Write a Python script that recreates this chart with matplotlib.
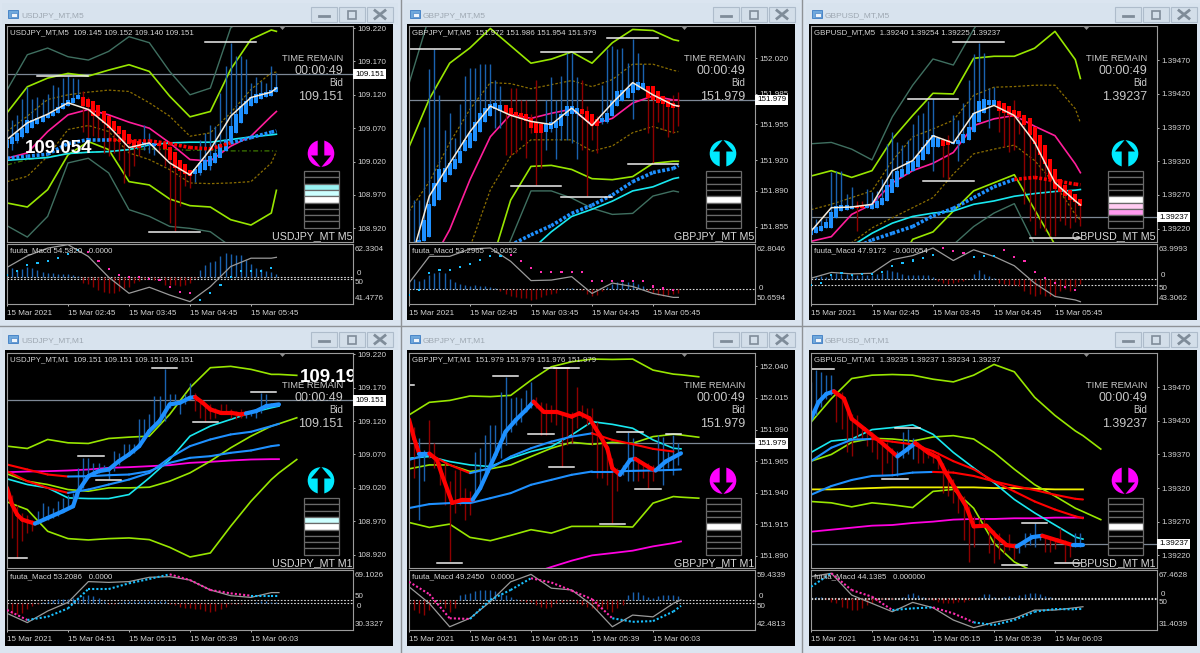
import numpy as np
import matplotlib
matplotlib.use("Agg")
import matplotlib.pyplot as plt
from matplotlib import font_manager
from matplotlib.patches import Rectangle, Circle, Polygon

plt.rcParams['font.family'] = ['Liberation Sans', 'DejaVu Sans']
installed = {f.name for f in font_manager.fontManager.ttflist}
NARROW = 'Liberation Sans Narrow' if 'Liberation Sans Narrow' in installed else 'Liberation Sans'
NARROW_K = 1.0 if NARROW.endswith('Narrow') else 0.84

# knots used by the slower indicator lines (bar numbers)
k5 = [0,4,8,12,16,20,24,28,32,36,40,44,48,52,53]
k1 = [0,8,16,24,32,40,48,56,64,72,80,88,96,104,107,114]
d5 = list(range(0,54,2))
w1 = list(range(0,108,2))

# --- USDJPY M5, points above 108.900
uj5_open = [141,146,151,157,163,171,176,180,185,188,193,198,203,208,213,216,213,211,204,196,188,181,174,167,161,153,151,145,145,144,148,147,142,134,123,116,108,101,103,108,113,118,126,136,148,163,178,191,203,208,213,216,218,224]
uj5_close = [153,157,163,171,182,182,186,188,191,194,202,207,212,215,219,203,201,188,188,178,171,166,161,153,146,141,141,149,148,148,144,139,123,111,106,101,98,109,118,123,128,133,146,153,173,191,203,211,216,221,222,224,227,232]
uj5_high = [179,183,190,213,232,213,216,213,221,234,232,245,248,245,243,226,216,206,203,188,178,171,173,168,158,153,153,175,163,148,148,148,143,135,123,116,108,111,153,163,175,173,223,263,298,278,278,274,238,246,241,238,263,253]
uj5_low = [128,138,148,155,163,171,176,180,185,188,193,198,203,208,213,165,153,158,153,133,128,133,123,88,98,113,128,138,133,130,133,113,28,16,53,83,80,90,100,108,108,118,128,136,148,163,178,191,203,208,213,216,218,224]
uj5_white = [153,178,191,208,198,173,141,148,118,100,138,188,216,224,230]
uj5_teal_up = [227,280,290,277,272,285,307,298,255,220,230,320,345,350,350]
uj5_green_up = [193,232,245,252,248,257,265,255,218,187,195,258,303,317,315]
uj5_dot_up = [165,188,213,220,224,227,225,208,188,158,163,193,228,253,254]
uj5_pink = [125,133,165,190,198,190,179,170,148,123,121,143,158,188,195]
uj5_dot_lo = [90,98,128,168,174,165,133,123,108,88,87,88,90,118,135]
uj5_olive = [115,123,127,132,134,135,138,139,138,137,137,136,136,136,136]
uj5_cyan = [122,124,126,132,134,135,138,145,148,149,149,153,157,160,161]
uj5_green_lo = [58,52,78,130,150,138,90,85,64,54,52,33,25,43,77]
uj5_teal_lo = [24,7,38,118,125,103,48,38,23,20,15,-7,-20,-20,-20]
uj5_slow = [125,128,131,147,153,153,151,151,147,141,139,148,156,164,166]
uj5_slow_flags = "bbbbb" + "rrrrrr" + "bbb"
uj5_piv_bar = [6,39,28]
uj5_piv_end = [16,49,38]
uj5_piv_pts = [248.5,299,14.5]
uj5_rsi = [54.2,58.2,60.9,62.1,58.0,50.8,45.2,47.3,44.6,42.3,47.5,54.5,57.4,57.4,57.7]
uj5_sig = [51.6,53.1,54.9,55.7,56.3,57.4,58.9,60.1,59.5,56.5,53.6,51.6,51.0,50.7,50.3,49.9,47.5,45.8,45.2,42.9,45.2,48.1,51.0,52.8,52.8,52.8,53.9]
uj5_sig_flags = "b"*8 + "p"*11 + "b"*8
uj5_hist = [30,25,20,22,28,25,18,12,10,10,8,8,8,5,3,-18,-22,-30,-40,-45,-48,-48,-42,-35,-30,-20,-12,-8,-3,-10,-3,-25,-25,-25,-28,-25,-20,-5,18,35,42,45,60,70,68,65,65,50,38,25,22,15,12,8]

# --- GBPJPY M5, points above 151.800
gj5_open = [16,26,29,41,45,75,81,99,106,111,117,129,132,139,148,157,163,170,168,174,171,167,166,165,161,157,155,148,151,152,154,163,165,165,170,168,165,160,157,157,163,173,178,181,186,189,190,193,193,188,183,179,176,174]
gj5_close = [26,37,42,62,77,98,111,112,117,121,129,140,147,157,166,171,175,176,174,166,163,163,160,158,152,147,147,155,157,158,165,173,173,171,165,158,154,154,161,166,178,188,189,191,196,197,196,181,179,176,175,172,171,172]
gj5_high = [86,81,81,153,209,229,184,150,166,142,175,202,210,210,214,214,214,199,193,173,191,191,179,179,165,199,156,179,201,179,202,225,225,201,199,173,165,163,194,229,232,229,230,215,239,225,214,193,193,183,183,179,184,187]
gj5_low = [16,26,29,41,45,75,81,99,106,111,117,129,132,139,148,157,163,152,152,125,125,127,140,122,147,96,112,130,148,121,140,140,137,121,130,85,140,127,155,156,163,173,178,181,160,189,190,147,117,157,150,143,147,154]
gj5_white = [16,85,117,148,173,164,158,155,171,154,176,196,184,174,173]
gj5_teal_up = [195,261,320,320,320,320,320,320,320,320,320,320,320,320,320]
gj5_green_up = [133,180,215,230,249,232,215,219,226,215,235,248,247,238,237]
gj5_dot_up = [70,99,137,170,196,195,190,194,198,192,199,214,214,208,207]
gj5_pink = [-16,16,52,101,143,165,161,166,170,155,161,176,183,179,179]
gj5_dot_lo = [-50,-50,0,35,91,124,140,140,140,129,134,147,153,147,148]
gj5_cyan = [-50,-50,-50,-50,-50,-20,32,50,65,72,80,90,94,102,103]
gj5_green_lo = [-50,-50,-50,-50,16,81,114,115,111,102,101,104,117,119,119]
gj5_teal_lo = [-50,-50,-50,-50,0,42,90,90,83,73,67,68,85,90,89]
gj5_slow = [-50,-50,-50,-50,22,37,47,56,68,76,86,99,108,112,115]
gj5_slow_flags = "b"*14
gj5_piv_bar = [0,26,39,20,30,43]
gj5_piv_end = [10,36,49,30,40,53]
gj5_piv_pts = [228.5,226,240,94.5,84.5,116]
gj5_rsi = [54.9,60.3,60.3,61.8,62.0,59.3,55.4,55.5,56.2,52.8,54.9,54.2,52.8,52.0,52.0]
gj5_sig = [52.5,53.5,56.9,57.6,57.6,58.1,58.7,59.6,60.3,60.4,60.6,59.3,57.9,57.2,57.2,57.2,57.2,57.2,55.3,55.3,55.3,55.3,55.3,55.3,54.2,53.8,53.5]
gj5_sig_flags = "b"*10 + "p"*17
gj5_hist = [25,30,25,30,42,48,50,48,30,20,15,12,10,12,10,8,5,3,-5,-15,-22,-25,-28,-28,-32,-30,-25,-18,-15,-12,0,3,3,0,-3,-15,-20,-18,-5,5,15,20,20,20,20,15,8,-5,-12,-18,-20,-18,-15,-12]

# --- GBPUSD M5, points above 1.39200
gu5_open = [11,14,16,21,21,36,46,47,49,54,54,50,49,51,55,61,73,81,96,101,106,111,122,131,141,141,152,151,145,146,147,151,164,179,191,204,204,209,206,202,196,194,189,185,171,159,144,124,109,94,85,77,71,64]
gu5_close = [21,22,24,29,44,54,55,55,54,50,50,55,56,61,66,84,94,106,109,121,121,129,141,151,159,154,143,144,149,151,161,171,191,209,212,211,211,194,191,189,186,186,174,159,146,129,116,94,79,74,69,62,59,54]
gu5_high = [56,34,34,36,104,106,106,71,81,61,61,79,74,76,94,146,164,149,144,151,176,189,191,209,212,154,154,159,189,181,206,241,279,296,281,229,230,211,206,202,211,194,189,185,171,159,144,124,109,94,85,77,71,64]
gu5_low = [11,14,16,21,21,36,46,47,49,16,50,50,49,51,55,61,74,81,96,101,106,111,122,131,106,141,96,94,145,121,147,151,164,179,191,169,204,164,141,134,136,161,56,31,11,21,16,9,9,31,26,21,29,24]
gu5_white = [16,51,52,56,106,121,158,147,191,203,188,148,88,61,55]
gu5_teal_up = [146,148,138,122,186,233,272,263,316,361,361,361,361,361,361]
gu5_green_up = [98,106,96,106,153,188,221,220,273,276,276,288,313,271,243]
gu5_dot_up = [48,56,66,76,121,156,168,181,218,230,231,233,233,198,177]
gu5_pink = [1,8,41,56,88,106,117,133,173,183,188,172,158,116,103]
gu5_dot_lo = [-39,-29,-1,21,36,51,66,101,131,138,144,121,86,41,33]
gu5_cyan = [-39,-24,-6,13,28,38,43,46,56,61,68,72,75,77,78]
gu5_green_lo = [-50,-50,-50,-50,-50,4,15,46,76,88,100,48,-4,-39,-39]
gu5_teal_lo = [-50,-50,-50,-50,-50,-50,-50,-4,23,43,57,-4,-50,-50,-50]
gu5_slow = [-50,-50,-11,3,13,23,39,50,66,82,93,96,91,86,85]
gu5_slow_flags = "b"*10 + "r"*4
gu5_piv_bar = [19,28,22,43]
gu5_piv_end = [29,38,32,53]
gu5_piv_pts = [212,297,91,6]
gu5_rsi = [52.2,54.2,53.7,53.9,58.6,60.0,62.6,58.3,62.0,59.7,56.5,50.5,45.9,44.7,44.1]
gu5_sig = [49.9,50.5,53.4,53.9,53.4,53.6,53.7,54.5,56.3,57.6,58.3,59.1,60.3,62.6,61.5,60.9,59.5,59.7,59.7,61.8,59.5,58.0,54.2,52.2,50.5,49.1,48.2]
gu5_sig_flags = "b"*13 + "ppp" + "bbb" + "p"*8
gu5_hist = [10,5,8,5,10,18,15,15,12,12,10,12,10,15,18,25,22,20,15,12,12,12,10,10,5,-5,-12,-15,-12,-10,-5,0,15,25,15,8,3,-12,-15,-18,-18,-22,-35,-45,-50,-45,-50,-50,-50,-35,-30,-35,-25,-15]

# --- USDJPY M1, points above 108.900
uj1_ha_bar = [0,2,4,6,8,11,16,22,26,28,32,36,40,44,48,52,56,60,64,68,72,74,77,80,84,88,92,94,98,102,107]
uj1_ha = [120,95,80,72.5,70,66.5,75,85,92.5,115,137.5,145,147.5,160,170,182.5,205,220,245,247.5,255,256,247.5,237.5,232.5,232.5,230,231.5,235,242.5,245]
uj1_ha_flags = "r"*5 + "b"*16 + "r"*6 + "b"*3
uj1_high = [125,110,95,82.5,80,72.5,85,97.5,92.5,90,100,105,110,112.5,150,165,165,157.5,157.5,155,150,175,172.5,185,185,185,222.5,222.5,230,257.5,257.5,297.5,260,260,250,260,277.5,262.5,250,245,245,240,245,245,237.5,235,237.5,234,234,235,262.5,261,247.5,247.5]
uj1_low = [105,45,15,40,52.5,55,66.5,70,72.5,75,77.5,85,90,92.5,105,120,135,140,142.5,145,134,145,155,165,170,172.5,182.5,195,200,215,217.5,220,240,245,230,245,252.5,235,225,220,222.5,225,230,232.5,225,222.5,225,225,227.5,225,232.5,240,242.5,242.5]
uj1_green_up = [182.5,179,192.5,187.5,186.5,194,196,197.5,230,270,300,302,297.5,290,290,288.5]
uj1_green_lo = [99,87.5,55,44,42,44,45,42.5,31,16.5,22.5,62.5,100,132.5,142.5,162.5]
uj1_green_mid = [141,130,125,117.5,115,120,120,121,130,142.5,160,180,197.5,212.5,216,225]
uj1_cyan = [133.5,125,120,105,104,104,110,135,162.5,197.5,212.5,222.5,232.5,240,242.5]
uj1_ma_a = [155,147.5,140,137,137.5,139,140,145,157.5,165,167.5,172.5,176,182.5,184]
uj1_ma_a_flags = "rrr" + "b"*11
uj1_ma_b = [145,130,120,112.5,117.5,125,132.5,142.5,165,182.5,192.5,200,204,212.5,216]
uj1_ma_b_flags = "rrr" + "b"*11
uj1_magenta = [143.5,144.5,145,146,147.5,150,151,152.5,154,157.5,159,161,162.5,163,163]
uj1_piv_bar = [57,28,35,96,73,0]
uj1_piv_end = [67,38,45,106,83,8]
uj1_piv_pts = [299,167,132,263,218.5,15]
uj1_rsi = [41.1,35.1,42.6,48.2,61.6,61.1,61.6,64.4,64.8,62.6,56.2,52.5,51.4,54.5,54.5]
uj1_sig = [43.3,36.8,38.9,44.3,56.8,56.8,60.5,63.3,66.3,62.6,56.2,54.0,52.5,52.5,52.5]
uj1_sig_flags = "p" + "b"*7 + "p"*4 + "bb"
uj1_hist = [-30,-35,-35,-30,-20,-10,-3,3,5,8,10,12,12,14,18,20,22,20,15,5,-3,-5,3,5,5,5,5,5,5,5,5,5,-3,-8,-12,-15,-15,-18,-20,-25,-28,-25,-20,-12,-5,-3,-3,0,0,2,5,5,3,3]

# --- GBPJPY M1, points above 151.800
gj1_ha_bar = [0,2,4,8,11,13,17,21,25,28,31,34,38,42,46,49,53,58,64,67,71,75,78,80,83,87,89,95,97,101,107]
gj1_ha = [198,183,171,171,166,154,132,134.4,134.4,143.6,156.8,170,188.3,197.5,205.4,212,204,204,200.2,202.8,198.9,185.7,175.2,159.4,154.2,166,166.8,159.4,157.6,164.7,171.2]
gj1_ha_flags = "rrb" + "r"*5 + "b"*7 + "r"*9 + "bb" + "rr" + "bb"
gj1_high = [198.9,192.3,183,173.9,197.5,179.1,164.7,164.7,148.9,158.1,159.4,143.6,141,172.6,175.2,185.7,193.6,193.6,219.9,231.7,214.6,216,214.6,221.2,227.8,216,212,210.7,209.4,238.3,204.1,238.3,204.1,223.8,209.4,206.8,206.8,196.2,185.7,175.2,167.3,159.4,162,188.3,183,167.3,164.7,163.4,162,185.7,184.4,172.6,185.7,179.1]
gj1_low = [162,151.5,118.6,148.9,167.3,159.4,146.3,130.5,85.8,123.9,130.5,118.6,122.6,138.4,146.3,154.2,159.4,167.3,167.3,177.8,188.3,193.6,196.2,204.1,206.8,206.8,185.7,185.7,196.2,193.6,160.7,177.8,179.1,191,198.9,193.6,177.8,151.5,151.5,146.3,116,141,154.2,148.9,148.9,148.9,151.5,143.6,148.9,159.4,146.3,159.4,154.2,162]
gj1_green_up = [201.5,211.5,213,216.5,216,217,229,239.6,243.6,245.7,245.4,245.7,237,233.8,233.3,231.7]
gj1_green_lo = [116.5,112.6,115.2,104.7,102.1,106.3,110.8,108.1,113.4,113.4,113.4,112.9,131.8,137,136.5,135.7]
gj1_green_mid = [158.9,162,162,156.8,158.9,162,168.6,175.2,179.9,178.3,179.9,179.1,184.4,186.2,185.7,183.9]
gj1_cyan = [167.3,168.6,164.7,162,160.7,167.3,172.6,176.5,185.7,196.2,194.1,191,181.8,175.2,174.7]
gj1_ma_a = [166,170.5,162,155.5,159.4,168.6,175.2,180.4,184.4,187,181.8,178.4,174.7,172.6]
gj1_ma_a_flags = "brr" + "b"*6 + "r"*4
gj1_ma_b = [127.9,131,131.8,131.8,135.7,139.7,146.3,150.2,154.2,156.8,156.8,157.3,157.6,158.1,158.4]
gj1_ma_b_flags = "b"*14
gj1_magenta = [40,40,40,50,62,70,76,81.3,86.3,90.5,92.3,94.2,97.6,100.2,101.5]
gj1_piv_bar = [33,53,57,47,55,82,101,11,89,75,0]
gj1_piv_end = [43,63,67,57,65,92,107,21,99,85,2]
gj1_piv_pts = [232.3,238.8,238.8,186.5,160.2,188.3,186.2,84.2,143.1,115.5,225]
gj1_rsi = [54.7,50.0,43.4,45.8,50.5,56.1,58.2,54.3,53.8,49.5,43.4,46.7,46.2,50.0,51.0]
gj1_sig = [56.1,52.6,45.8,45.6,51,53.8,57.1,55.9,53.6,51.2,45.8,44.8,45,47.7,49.3]
gj1_sig_flags = "ppp" + "bbb" + "pppp" + "bbbb"
gj1_hist = [-15,-30,-40,-45,-30,-10,-5,-25,-35,-25,15,18,22,28,30,30,30,28,20,15,8,3,-3,-5,-5,-15,-22,-25,-20,-10,-5,-3,-3,-8,-15,-20,-25,-30,-28,-28,-35,-25,-15,15,25,25,15,8,5,12,15,15,15,12]

# --- GBPUSD M1, points above 1.39200
gu1_ha_bar = [0,3,6,9,13,16,21,27,34,38,41,46,50,53,57,61,64,69,73,77,81,87,91,97,103,107]
gu1_ha = [223,248,260,264,253,223,208,190,167,178,187,173,165,143,118,93,63,64,48,35,33,47,49,42,35,35]
gu1_ha_flags = "bbb" + "r"*5 + "bb" + "r"*10 + "bb" + "rr" + "b"
gu1_high = [278,295,293,288,288,264,263,245,230,228,213,205,203,193,190,188,180,175,203,208,195,188,183,178,175,173,158,148,133,118,108,93,78,75,75,63,58,53,43,52,38,35,53,53,68,50,48,45,43,60,43,38,53,53]
gu1_low = [218,228,240,253,258,218,208,173,168,193,193,183,173,163,140,158,140,138,165,170,163,158,158,165,158,148,113,108,98,83,43,10,33,63,63,23,8,15,23,28,15,23,33,35,33,43,25,25,30,38,10,18,33,33]
gu1_green_up = [218,253,283,288,289,288,282,278,288,304,293,255,228,205,198,178]
gu1_green_lo = [100,98,92,98,95,91,115,118,90,38,10,-5]
gu1_green_mid = [160,170,188,194,193,190,196,198,193,173,148,125,108,90,85,73]
gu1_cyan = [173,190,193,207,210,214,200,173,150,128,103,83,65,47,44]
gu1_ma_a = [160,180,192,193,189,185,175,160,148,130,115,100,88,78,75]
gu1_ma_a_flags = "bbb" + "r"*11
gu1_ma_b = [110,123,132,138,139,143,144,143,138,130,123,117,110,104,103]
gu1_ma_b_flags = "b"*6 + "r"*8
gu1_yellow = [118,118,119,120,121,121,121,121,121,120,120,119,118,118,118]
gu1_magenta = [55,58,61,64,65,68,70,73,74,74,75,75,76,76,76]
gu1_piv_bar = [0,33,28,83,75,96]
gu1_piv_end = [9,43,38,93,85,106]
gu1_piv_pts = [297,209,134,68,6,8]
gu1_rsi = [63.5,65.5,52.4,47.4,42.4,48,44.8,37.4,32.8,36,38.4,43.4,43.4,44.8,45.4]
gu1_sig = [57.4,65.5,55.4,51.4,43.4,44.4,45,41.4,36,34.4,37.4,42.4,44,43.8,43.8]
gu1_sig_flags = "b" + "ppp" + "bb" + "pp" + "b"*6
gu1_hist = [5,5,5,-3,-10,-15,-25,-30,-35,-35,-30,-20,-15,-8,-3,-3,-3,0,5,12,15,10,3,-3,-5,-10,-15,-15,-15,-12,-10,-5,-3,3,12,12,5,0,5,8,5,10,12,15,15,12,8,3,0,0,0,0,0,0]

# signal stack row colours (9 rows, top first)
K_ = "#000000"
stack_uj5 = [K_,K_,"#99f2f2","#ccffff","#ffffff",K_,K_,K_,K_]
stack_one = [K_,K_,K_,K_,"#ffffff",K_,K_,K_,K_]
stack_gu5 = [K_,K_,K_,K_,"#ffffff","#ffccf2","#ff99ee",K_,K_]
stack_uj1 = [K_,K_,K_,"#ccffff","#ffffff",K_,K_,K_,K_]

GREEN = "#98e600"; TEAL = "#3f6f60"; GOLD = "#8a6d00"; PINK = "#ff1e9a"
CYAN = "#19e8f0"; BLUE = "#1e90ff"; RED = "#ff0000"; MAG = "#ff00e0"
DBLUE = "#1a62b0"; DRED = "#8e0000"; TXT = "#d4d4d4"
seg_col = {"b": BLUE, "r": RED, "p": "#ff2db0"}
dot_col = {"b": "#19c0ff", "p": "#ff2db0"}

panels = [
    dict(sym="USDJPY_MT", tf="M5", left=7, row=0, base=108.9, pt=0.001, ylim=(108.8996,109.223), fmt="%.3f",
         ticks=[109.22,109.17,109.12,109.07,109.02,108.97,108.92], bid=109.151, bidtxt="109.151",
         ohlc="109.145 109.152 109.140 109.151", macd="fuuta_Macd 54.5820   0.0000", sub=(41.4776,62.3304),
         subtxt=("41.4776","62.3304"), zero=51.03, lvl50=True, hist_unit=.1165, arrow="down",
         stack=stack_uj5, times=["15 Mar 2021","15 Mar 02:45","15 Mar 03:45","15 Mar 04:45","15 Mar 05:45"],
         o=uj5_open, c=uj5_close, h=uj5_high, l=uj5_low, white=uj5_white, slow=uj5_slow, slow_f=uj5_slow_flags,
         teal=[uj5_teal_up,uj5_teal_lo], green=[uj5_green_up,uj5_green_lo], gold=[uj5_dot_up,uj5_dot_lo], pink=uj5_pink,
         olive=uj5_olive, cyan=uj5_cyan, piv=(uj5_piv_bar,uj5_piv_end,uj5_piv_pts),
         rsi=uj5_rsi, sig=uj5_sig, sig_f=uj5_sig_flags, hist=uj5_hist, big=("109.054",25,148)),
    dict(sym="GBPJPY_MT", tf="M5", left=409, row=0, base=151.8, pt=0.001, ylim=(151.840,152.0514), fmt="%.3f",
         ticks=[152.02,151.985,151.955,151.92,151.89,151.855], bid=151.979, bidtxt="151.979",
         ohlc="151.972 151.986 151.954 151.979", macd="fuuta_Macd 53.2965   -0.0052", sub=(50.6594,62.8046),
         subtxt=("50.6594","62.8046"), zero=53.71, lvl50=False, hist_unit=.0678, arrow="up",
         stack=stack_one, times=["15 Mar 2021","15 Mar 02:45","15 Mar 03:45","15 Mar 04:45","15 Mar 05:45"],
         o=gj5_open, c=gj5_close, h=gj5_high, l=gj5_low, white=gj5_white, slow=gj5_slow, slow_f=gj5_slow_flags,
         teal=[gj5_teal_up,gj5_teal_lo], green=[gj5_green_up,gj5_green_lo], gold=[gj5_dot_up,gj5_dot_lo], pink=gj5_pink,
         cyan=gj5_cyan, piv=(gj5_piv_bar,gj5_piv_end,gj5_piv_pts),
         rsi=gj5_rsi, sig=gj5_sig, sig_f=gj5_sig_flags, hist=gj5_hist),
    dict(sym="GBPUSD_MT", tf="M5", left=811, row=0, base=1.392, pt=0.00001, ylim=(1.39200,1.39521), fmt="%.5f",
         ticks=[1.3947,1.3942,1.3937,1.3932,1.3927,1.3922], bid=1.39237, bidtxt="1.39237",
         ohlc="1.39240 1.39254 1.39225 1.39237", macd="fuuta_Macd 47.9172   -0.000054", sub=(43.3062,63.9993),
         subtxt=("43.3062","63.9993"), zero=51.98, lvl50=True, hist_unit=.1156, arrow="up",
         stack=stack_gu5, times=["15 Mar 2021","15 Mar 02:45","15 Mar 03:45","15 Mar 04:45","15 Mar 05:45"],
         o=gu5_open, c=gu5_close, h=gu5_high, l=gu5_low, white=gu5_white, slow=gu5_slow, slow_f=gu5_slow_flags,
         teal=[gu5_teal_up,gu5_teal_lo], green=[gu5_green_up,gu5_green_lo], gold=[gu5_dot_up,gu5_dot_lo], pink=gu5_pink,
         cyan=gu5_cyan, piv=(gu5_piv_bar,gu5_piv_end,gu5_piv_pts),
         rsi=gu5_rsi, sig=gu5_sig, sig_f=gu5_sig_flags, hist=gu5_hist),
    dict(sym="USDJPY_MT", tf="M1", left=7, row=1, base=108.9, pt=0.001, ylim=(108.900,109.222), fmt="%.3f",
         ticks=[109.22,109.17,109.12,109.07,109.02,108.97,108.92], bid=109.151, bidtxt="109.151",
         ohlc="109.151 109.151 109.151 109.151", macd="fuuta_Macd 53.2086   0.0000", sub=(30.3327,69.1026),
         subtxt=("30.3327","69.1026"), zero=48.0, lvl50=True, hist_unit=.2154, arrow="up",
         stack=stack_uj1, times=["15 Mar 2021","15 Mar 04:51","15 Mar 05:15","15 Mar 05:39","15 Mar 06:03"],
         ha_bar=uj1_ha_bar, ha=uj1_ha, ha_f=uj1_ha_flags, h=uj1_high, l=uj1_low,
         green=[uj1_green_up,uj1_green_lo,uj1_green_mid], cyan=uj1_cyan, ma_a=uj1_ma_a, ma_a_f=uj1_ma_a_flags,
         ma_b=uj1_ma_b, ma_b_f=uj1_ma_b_flags, magenta=uj1_magenta, piv=(uj1_piv_bar,uj1_piv_end,uj1_piv_pts),
         rsi=uj1_rsi, sig=uj1_sig, sig_f=uj1_sig_flags, hist=uj1_hist, big=("109.19",300,377)),
    dict(sym="GBPJPY_MT", tf="M1", left=409, row=1, base=151.8, pt=0.001, ylim=(151.8805,152.0505), fmt="%.3f",
         ticks=[152.04,152.015,151.99,151.965,151.94,151.915,151.89], bid=151.979, bidtxt="151.979",
         ohlc="151.979 151.979 151.976 151.979", macd="fuuta_Macd 49.2450   0.0000", sub=(42.4813,59.4339),
         subtxt=("42.4813","59.4339"), zero=50.95, lvl50=True, hist_unit=.0942, arrow="down",
         stack=stack_one, times=["15 Mar 2021","15 Mar 04:51","15 Mar 05:15","15 Mar 05:39","15 Mar 06:03"],
         ha_bar=gj1_ha_bar, ha=gj1_ha, ha_f=gj1_ha_flags, h=gj1_high, l=gj1_low,
         green=[gj1_green_up,gj1_green_lo,gj1_green_mid], cyan=gj1_cyan, ma_a=gj1_ma_a, ma_a_f=gj1_ma_a_flags,
         ma_b=gj1_ma_b, ma_b_f=gj1_ma_b_flags, magenta=gj1_magenta, piv=(gj1_piv_bar,gj1_piv_end,gj1_piv_pts),
         rsi=gj1_rsi, sig=gj1_sig, sig_f=gj1_sig_flags, hist=gj1_hist),
    dict(sym="GBPUSD_MT", tf="M1", left=811, row=1, base=1.392, pt=0.00001, ylim=(1.39201,1.39521), fmt="%.5f",
         ticks=[1.3947,1.3942,1.3937,1.3932,1.3927,1.3922], bid=1.39237, bidtxt="1.39237",
         ohlc="1.39235 1.39237 1.39234 1.39237", macd="fuuta_Macd 44.1385   0.000000", sub=(31.4039,67.4628),
         subtxt=("31.4039","67.4628"), zero=50.4, lvl50=True, hist_unit=.2003, arrow="down",
         stack=stack_one, times=["15 Mar 2021","15 Mar 04:51","15 Mar 05:15","15 Mar 05:39","15 Mar 06:03"],
         ha_bar=gu1_ha_bar, ha=gu1_ha, ha_f=gu1_ha_flags, h=gu1_high, l=gu1_low,
         green=[gu1_green_up,gu1_green_lo,gu1_green_mid], cyan=gu1_cyan, ma_a=gu1_ma_a, ma_a_f=gu1_ma_a_flags,
         ma_b=gu1_ma_b, ma_b_f=gu1_ma_b_flags, magenta=gu1_magenta, yellow=gu1_yellow,
         piv=(gu1_piv_bar,gu1_piv_end,gu1_piv_pts), rsi=gu1_rsi, sig=gu1_sig, sig_f=gu1_sig_flags, hist=gu1_hist),
]

W, H = 1200, 653
CW = 346
rows = [dict(top=26, split=242, sub=244, bot=304, cl0=24, cl1=320, win=0),
        dict(top=353, split=568, sub=570, bot=630, cl0=350, cl1=646, win=325)]

fig = plt.figure(figsize=(W/100, H/100), dpi=100, facecolor="#dbe5f0")

def px_axes(x0, y0, x1, y1, **kw):
    return fig.add_axes([x0/W, 1-y1/H, (x1-x0)/W, (y1-y0)/H], **kw)

back = px_axes(0, 0, W, H, zorder=0)
back.set_xlim(0, W); back.set_ylim(H, 0); back.axis("off")
front = px_axes(0, 0, W, H, zorder=5)
front.set_xlim(0, W); front.set_ylim(H, 0); front.axis("off"); front.patch.set_alpha(0)

def colored(ax, x, y, flags, cols, lw, **kw):
    for i, f in enumerate(flags):
        if i+1 >= len(x) or i+1 >= len(y):
            break
        ax.plot(x[i:i+2], y[i:i+2], color=cols[f], lw=lw, solid_capstyle="round", **kw)

def chrome(p, r):
    x0 = p["left"]-7
    wy = r["win"]
    back.add_patch(Rectangle((x0+2, wy+3), 396, 22, fc="#d8e3ee", ec="none"))
    back.add_patch(Rectangle((p["left"]-2, r["cl0"]), 388, r["cl1"]-r["cl0"], fc="black", ec="none"))
    back.add_patch(Rectangle((x0+8, wy+10), 10, 8, fc="#6fa8dc", ec="#4a86c8", lw=.7))
    back.add_patch(Rectangle((x0+11, wy+13), 6, 4, fc="#eef4fa", ec="#4a86c8", lw=.5))
    back.text(x0+21, wy+15.5, "%s,%s" % (p["sym"], p["tf"]), color="#9ea8b2", fontsize=7.2*NARROW_K, family=NARROW, va="center")
    for k, bx in enumerate([311, 339, 367]):
        back.add_patch(Rectangle((x0+bx, wy+7), 26, 15, fc="#d3dee9", ec="#aebccb", lw=.8))
        cx, cy = x0+bx+13, wy+14.5
        if k == 0:
            back.plot([cx-5, cx+5], [cy+1, cy+1], color="#7f8c99", lw=2)
        elif k == 1:
            back.add_patch(Rectangle((cx-4, cy-4), 8, 8, fc="none", ec="#7f8c99", lw=1.2))
        else:
            back.plot([cx-5, cx+5], [cy-4, cy+4], color="#7f8c99", lw=2)
            back.plot([cx-5, cx+5], [cy+4, cy-4], color="#7f8c99", lw=2)

def signal_icon(p, r):
    cx = p["left"]+314
    cy = r["top"]+127.5
    rr = 13.3
    col = "#ff00ff" if p["arrow"] == "down" else "#00eaff"
    front.add_patch(Circle((cx, cy), rr, fc=col, ec="none"))
    s = 1 if p["arrow"] == "down" else -1
    pts = [(-3.3,-14),(3.3,-14),(3.3,2),(10,2),(0,14),(-10,2),(-3.3,2)]
    front.add_patch(Polygon([(cx+a, cy+s*b) for a, b in pts], fc="black", ec="none"))
    sx0 = p["left"]+297
    sy0 = r["top"]+145
    for i, c in enumerate(p["stack"]):
        front.add_patch(Rectangle((sx0, sy0+i*6.3), 34.5, 6.3, fc=c, ec="#6a6a6a", lw=.9))
    front.add_patch(Polygon([(p["left"]+272, r["top"]),(p["left"]+279, r["top"]),(p["left"]+275.5, r["top"]+4)], fc="#8e8e8e", ec="none"))
    front.add_patch(Rectangle((p["left"]+307, r["split"]-1), 7, 2, fc="#8e8e8e", ec="none"))

def draw(p):
    r = rows[p["row"]]
    m5 = p["tf"] == "M5"
    chrome(p, r)
    ax = px_axes(p["left"], r["top"], p["left"]+CW, r["split"], zorder=1, facecolor="black")
    sub = px_axes(p["left"], r["sub"], p["left"]+CW, r["bot"], zorder=1, facecolor="black")
    bar_px = 5.083 if m5 else 2.5417
    xlim = (0, CW/bar_px)
    conv = lambda v: p["base"] + np.asarray(v, dtype=float)*p["pt"]
    knots = k5 if m5 else k1
    ax.set_xlim(xlim); ax.set_ylim(p["ylim"])

    def kline(vals, **kw):
        ax.plot(knots[:len(vals)], conv(vals), **kw)

    ax.axhline(p["bid"], color="#7d8896", lw=.9, zorder=1)
    for v in p.get("teal", []):
        kline(v, color=TEAL, lw=1.0)
    for v in p.get("gold", []):
        kline(v, color=GOLD, lw=.9, ls=(0, (2, 1.5)))
    if "olive" in p:
        kline(p["olive"], color="#3f7a00", lw=.9, ls=(0, (4, 2, 1, 2)))
    if "magenta" in p:
        kline(p["magenta"], color=MAG, lw=1.3)
    if "yellow" in p:
        kline(p["yellow"], color="#f0f000", lw=1.3)
    for v in p["green"]:
        kline(v, color=GREEN, lw=1.2)
    if "pink" in p:
        kline(p["pink"], color=PINK, lw=1.2)
    kline(p["cyan"], color=CYAN, lw=1.2)

    if m5:
        bars = np.arange(len(p["o"]))
        o, c = np.array(p["o"], float), np.array(p["c"], float)
        up = c >= o
        cols = [DBLUE if u else DRED for u in up]
        ax.vlines(bars, conv(p["l"]), conv(p["h"]), colors=cols, lw=1.0)
        ax.vlines(bars, conv(o), conv(c), colors=[BLUE if u else RED for u in up], lw=2.9)
        if "slow" in p:
            for i, f in enumerate(p["slow_f"]):
                ax.plot(knots[i:i+2], conv(p["slow"][i:i+2]), color=seg_col[f], lw=2.6, ls=(0, (.8, .5)), dash_capstyle="butt")
        kline(p["white"], color="#f6ecdc", lw=1.1)
    else:
        ha_bar = np.array(p["ha_bar"])
        for b, hi, lo in zip(w1, p["h"], p["l"]):
            seg = min(max(np.searchsorted(ha_bar, b, side="right")-1, 0), len(p["ha_f"])-1)
            ax.vlines(b, conv(lo), conv(hi), color=DBLUE if p["ha_f"][seg] == "b" else DRED, lw=1.0)
        colored(ax, knots, conv(p["ma_a"]), p["ma_a_f"], seg_col, 1.5)
        colored(ax, knots, conv(p["ma_b"]), p["ma_b_f"], seg_col, 1.5)
        colored(ax, p["ha_bar"], conv(p["ha"]), p["ha_f"], seg_col, 3.0)

    pb, pe, pv = p["piv"]
    for a, b, v in zip(pb, pe, pv):
        ax.plot([a, b], conv([v, v]), color="#f0f0f0", lw=1.1)

    ax.set_xticks([])
    ax.yaxis.tick_right()
    ax.set_yticks(p["ticks"])
    ax.set_yticklabels([p["fmt"] % t for t in p["ticks"]], fontsize=5.8, color=TXT)
    ax.tick_params(axis="y", length=1.5, width=.6, color=TXT, pad=1.6)
    for s in ax.spines.values():
        s.set_color("#9b9b9b"); s.set_linewidth(.8)

    def put(xp, yp, txt, **kw):
        ax.text(xp/CW, 1-yp/(r["split"]-r["top"]), txt, transform=ax.transAxes, **kw)

    put(3, 7, "%s,%s  %s" % (p["sym"], p["tf"], p["ohlc"]), color=TXT, fontsize=5.7, va="center", zorder=9)
    rx = 336
    put(rx, 32, "TIME REMAIN", color="#c8c8c8", fontsize=8*NARROW_K, family=NARROW, ha="right", va="center", zorder=9)
    put(rx, 45, "00:00:49", color="#c8c8c8", fontsize=9, ha="right", va="center", zorder=9)
    put(rx, 57, "Bid", color="#c8c8c8", fontsize=7, ha="right", va="center", zorder=9)
    put(rx, 71, p["bidtxt"], color="#c8c8c8", fontsize=9, ha="right", va="center", zorder=9)
    put(345, 210, "%s %s" % (p["sym"], p["tf"]), color="#d8d8d8", fontsize=7.7, ha="right", va="center", zorder=9)
    if "big" in p:
        s, bx, by = p["big"]
        put(bx-p["left"], by-r["top"], s, color="white", fontsize=13.5, fontweight="bold", va="center", zorder=9, clip_on=True)
    ax.text(1+2/CW, p["bid"], p["bidtxt"], transform=ax.get_yaxis_transform(), color="black", fontsize=5.8,
            va="center", ha="left", zorder=12, clip_on=False,
            bbox=dict(fc="white", ec="none", pad=1.2))

    # macd window
    sub.set_xlim(xlim); sub.set_ylim(p["sub"])
    sub.axhline(p["zero"], color="#d8d8d8", lw=.8, ls=(0, (1.5, 1.5)))
    if p["lvl50"]:
        sub.axhline(50, color="#d8d8d8", lw=.8, ls=(0, (1.5, 1.5)))
    hv = np.array(p["hist"], float)*p["hist_unit"]
    hb = np.arange(len(hv)) if m5 else np.array(w1)[:len(hv)]
    sub.vlines(hb, p["zero"], p["zero"]+hv, colors=[DBLUE if h > 0 else DRED for h in hv], lw=1.0)
    sub.plot(knots[:len(p["rsi"])], p["rsi"], color="#9a9a9a", lw=.9)
    if m5:
        sub.scatter(d5, p["sig"], s=2.2, marker="s", linewidths=0, c=[dot_col[f] for f in p["sig_f"]], zorder=4)
    else:
        for i, f in enumerate(p["sig_f"]):
            sub.plot(knots[i:i+2], p["sig"][i:i+2], color=dot_col[f], lw=1.5, ls=(0, (1, 1)), dash_capstyle="butt", zorder=4)
    sub.set_yticks([])
    sub.set_xticks([0, 24, 48, 72, 96] if not m5 else [0, 12, 24, 36, 48])
    sub.set_xticklabels(p["times"], fontsize=5.8, color=TXT, ha="left")
    sub.tick_params(axis="x", length=1.5, width=.6, color=TXT, pad=2.5)
    for s in sub.spines.values():
        s.set_color("#9b9b9b"); s.set_linewidth(.8)
    sub.text(3/CW, 1-7/60, p["macd"], transform=sub.transAxes, color=TXT, fontsize=5.7, va="center", zorder=9)
    lx = 1+2/CW
    sub.text(lx, 1-5.7/60, p["subtxt"][1], transform=sub.transAxes, color=TXT, fontsize=5.8, va="center", clip_on=False)
    sub.text(lx, 5/60, p["subtxt"][0], transform=sub.transAxes, color=TXT, fontsize=5.8, va="center", clip_on=False)
    yt = sub.get_yaxis_transform()
    # the two level labels sit almost on each other, pull them apart from their lines
    zero_va = "center"
    if p["lvl50"]:
        zero_va = "bottom" if p["zero"] > 50 else "top"
        sub.text(lx, 50, "50", transform=yt, color=TXT, fontsize=5.8, clip_on=False,
                 va="top" if p["zero"] > 50 else "bottom")
    sub.text(lx+.005, p["zero"], "0", transform=yt, color=TXT, fontsize=5.8, va=zero_va, clip_on=False)
    signal_icon(p, r)

# window dividers
back.plot([0, W], [326, 326], color="#8e9296", lw=1)
back.plot([400.5, 400.5], [0, H], color="#8e9296", lw=1)
back.plot([801.5, 801.5], [0, H], color="#8e9296", lw=1)
for p in panels:
    draw(p)

fig.savefig("out.png", dpi=100, facecolor=fig.get_facecolor())
